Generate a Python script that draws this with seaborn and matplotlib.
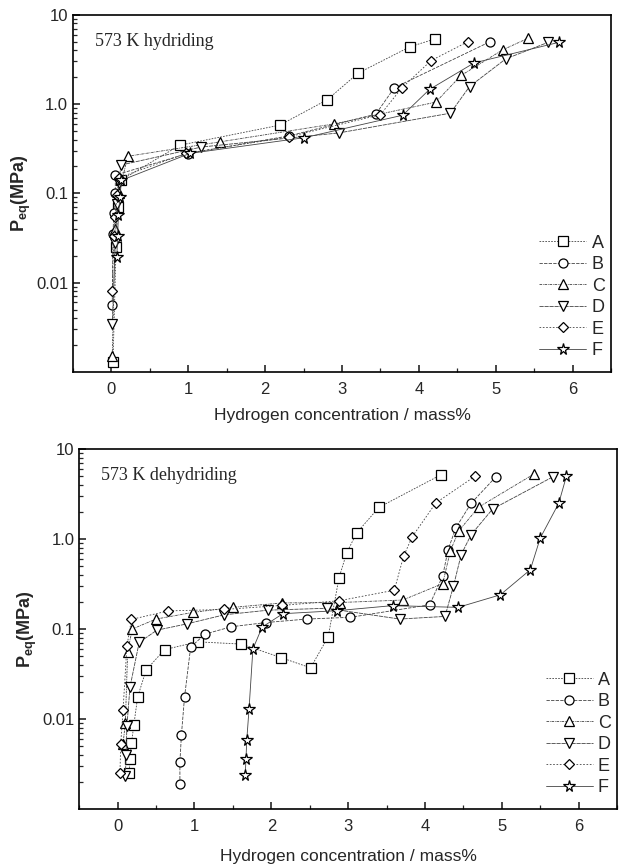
import numpy as np
import pandas as pd
import matplotlib
matplotlib.use("Agg")
import matplotlib.pyplot as plt
import seaborn as sns

SERIES = ["A", "B", "C", "D", "E", "F"]

# ---- 573 K hydriding (x: mass%, y: MPa) ----
HYD_A_X = [0.02, 0.06, 0.08, 0.12, 0.89, 2.19, 2.81, 3.21, 3.89, 4.21]
HYD_A_Y = [0.0013, 0.025, 0.07, 0.14, 0.346, 0.58, 1.12, 2.22, 4.4, 5.35]
HYD_B_X = [0.01, 0.02, 0.03, 0.05, 0.05, 0.99, 2.31, 3.44, 3.68, 4.92]
HYD_B_Y = [0.0056, 0.035, 0.06, 0.1, 0.16, 0.279, 0.44, 0.77, 1.52, 4.96]
HYD_C_X = [0.01, 0.05, 0.1, 0.21, 1.41, 2.9, 4.22, 4.55, 5.09, 5.42]
HYD_C_Y = [0.0015, 0.04, 0.1, 0.26, 0.377, 0.6, 1.05, 2.09, 4.04, 5.45]
HYD_D_X = [0.01, 0.05, 0.07, 0.1, 0.12, 1.17, 2.96, 4.41, 4.66, 5.13, 5.68]
HYD_D_Y = [0.0034, 0.028, 0.075, 0.13, 0.207, 0.33, 0.475, 0.79, 1.57, 3.2, 4.9]
HYD_E_X = [0.01, 0.03, 0.05, 0.07, 0.1, 0.97, 2.31, 3.5, 3.78, 4.16, 4.64]
HYD_E_Y = [0.008, 0.033, 0.055, 0.095, 0.15, 0.28, 0.43, 0.76, 1.52, 3.07, 5.0]
HYD_F_X = [0.07, 0.08, 0.09, 0.11, 0.13, 1.02, 2.51, 3.79, 4.14, 4.72, 5.82]
HYD_F_Y = [0.0195, 0.033, 0.057, 0.09, 0.14, 0.28, 0.42, 0.75, 1.46, 2.89, 4.9]

# ---- 573 K dehydriding ----
DEH_A_X = [4.21, 3.4, 3.11, 2.98, 2.88, 2.74, 2.51, 2.13, 1.61, 1.04, 0.61, 0.37, 0.26, 0.21, 0.18, 0.16, 0.15]
DEH_A_Y = [5.2, 2.25, 1.17, 0.70, 0.37, 0.082, 0.037, 0.048, 0.068, 0.072, 0.059, 0.035, 0.0175, 0.0085, 0.0054, 0.0036, 0.0025]
DEH_B_X = [4.92, 4.6, 4.4, 4.3, 4.23, 4.06, 3.03, 2.46, 1.93, 1.48, 1.14, 0.95, 0.87, 0.83, 0.81, 0.81]
DEH_B_Y = [4.9, 2.5, 1.33, 0.76, 0.39, 0.186, 0.135, 0.129, 0.118, 0.106, 0.088, 0.063, 0.0174, 0.0067, 0.0033, 0.0019]
DEH_C_X = [5.42, 4.7, 4.44, 4.33, 4.23, 3.71, 2.89, 2.14, 1.5, 0.98, 0.5, 0.19, 0.13, 0.1, 0.07]
DEH_C_Y = [5.3, 2.27, 1.24, 0.74, 0.32, 0.21, 0.197, 0.195, 0.174, 0.153, 0.129, 0.1, 0.056, 0.009, 0.0053]
DEH_D_X = [5.66, 4.88, 4.6, 4.47, 4.37, 4.26, 3.67, 2.72, 1.96, 1.39, 0.9, 0.51, 0.28, 0.16, 0.12, 0.11, 0.1]
DEH_D_Y = [4.9, 2.16, 1.12, 0.67, 0.30, 0.138, 0.129, 0.17, 0.162, 0.144, 0.114, 0.097, 0.071, 0.0225, 0.0083, 0.004, 0.0023]
DEH_E_X = [4.65, 4.14, 3.83, 3.72, 3.6, 2.88, 2.14, 1.39, 0.66, 0.18, 0.12, 0.07, 0.04, 0.03]
DEH_E_Y = [4.99, 2.52, 1.05, 0.64, 0.27, 0.206, 0.183, 0.165, 0.159, 0.128, 0.064, 0.0125, 0.0053, 0.0025]
DEH_F_X = [5.84, 5.74, 5.5, 5.37, 4.98, 4.43, 3.58, 2.86, 2.15, 1.88, 1.76, 1.71, 1.68, 1.67, 1.66]
DEH_F_Y = [5.0, 2.5, 1.03, 0.456, 0.24, 0.174, 0.182, 0.16, 0.148, 0.105, 0.06, 0.013, 0.0058, 0.0036, 0.0024]

HYD = {"A": (HYD_A_X, HYD_A_Y), "B": (HYD_B_X, HYD_B_Y), "C": (HYD_C_X, HYD_C_Y),
       "D": (HYD_D_X, HYD_D_Y), "E": (HYD_E_X, HYD_E_Y), "F": (HYD_F_X, HYD_F_Y)}
DEH = {"A": (DEH_A_X, DEH_A_Y), "B": (DEH_B_X, DEH_B_Y), "C": (DEH_C_X, DEH_C_Y),
       "D": (DEH_D_X, DEH_D_Y), "E": (DEH_E_X, DEH_E_Y), "F": (DEH_F_X, DEH_F_Y)}

MARKERS = {"A": "s", "B": "o", "C": "^", "D": "v", "E": "D", "F": "*"}
DASHES = {"A": (2, 1.5), "B": (4, 1.5), "C": (3, 1, 1, 1), "D": (5, 1), "E": (2, 2), "F": ""}
PALETTE = {s: "#444444" for s in SERIES}


def to_frame(d):
    rows = []
    for s in SERIES:
        xs, ys = d[s]
        for i, (x, y) in enumerate(zip(xs, ys)):
            rows.append({"series": s, "x": x, "y": y, "i": i})
    return pd.DataFrame(rows)


def draw(ax, d, title, tickpad, xlabelpad):
    df = to_frame(d)
    sns.lineplot(data=df, x="x", y="y", hue="series", style="series",
                 hue_order=SERIES, style_order=SERIES, palette=PALETTE,
                 markers=MARKERS, dashes=DASHES, sort=False, estimator=None,
                 linewidth=0.6, markersize=6.5, markerfacecolor="white",
                 markeredgecolor="black", markeredgewidth=0.9,
                 legend=False, ax=ax)
    # star and diamond slightly resized
    for ln, s in zip(ax.lines, SERIES):
        if s == "F":
            ln.set_markersize(8.5)
        elif s == "E":
            ln.set_markersize(5.5)
    ax.set_yscale("log")
    ax.set_xlim(-0.5, 6.5)
    ax.set_ylim(0.001, 10)
    ax.set_xticks(range(0, 7))
    ax.set_xticks(np.arange(-0.5, 6.6, 0.5), minor=True)
    ax.set_yticks([0.01, 0.1, 1, 10], labels=["0.01", "0.1", "1.0", "10"])
    ax.tick_params(which="both", direction="in", top=False, right=False, labelsize=12)
    ax.tick_params(which="major", length=5, width=1.2)
    ax.tick_params(which="minor", length=3, width=0.9)
    ax.tick_params(axis="x", pad=tickpad)
    for sp in ax.spines.values():
        sp.set_linewidth(1.2)
        sp.set_color("black")
    ax.set_xlabel("Hydrogen concentration / mass%", fontsize=12.5, labelpad=xlabelpad)
    ax.set_ylabel(r"P$_\mathregular{eq}$(MPa)", fontsize=13, fontweight="bold", labelpad=2)
    ax.text(0.04, 0.95, title, transform=ax.transAxes, ha="left", va="top",
            fontsize=13, family=["Liberation Serif", "DejaVu Serif"])
    leg = ax.legend(handles=list(ax.lines[:6]), labels=SERIES, loc="lower right",
                    bbox_to_anchor=(1.012, 0.0), frameon=False, fontsize=13,
                    handlelength=2.6, handletextpad=0.3, labelspacing=0.25,
                    borderaxespad=0.3)
    return leg


def main():
    sns.set_theme(style="ticks")
    plt.rcParams["font.family"] = ["Liberation Sans", "DejaVu Sans"]

    fig = plt.figure(figsize=(6.19, 8.67), dpi=100)
    ax1 = fig.add_axes([0.118, 0.571, 0.869, 0.412])
    ax2 = fig.add_axes([0.128, 0.067, 0.869, 0.415])

    draw(ax1, HYD, "573 K hydriding", 7, 8.5)
    draw(ax2, DEH, "573 K dehydriding", 7, 11)

    fig.savefig("out.png", dpi=100)


if __name__ == "__main__":
    main()
